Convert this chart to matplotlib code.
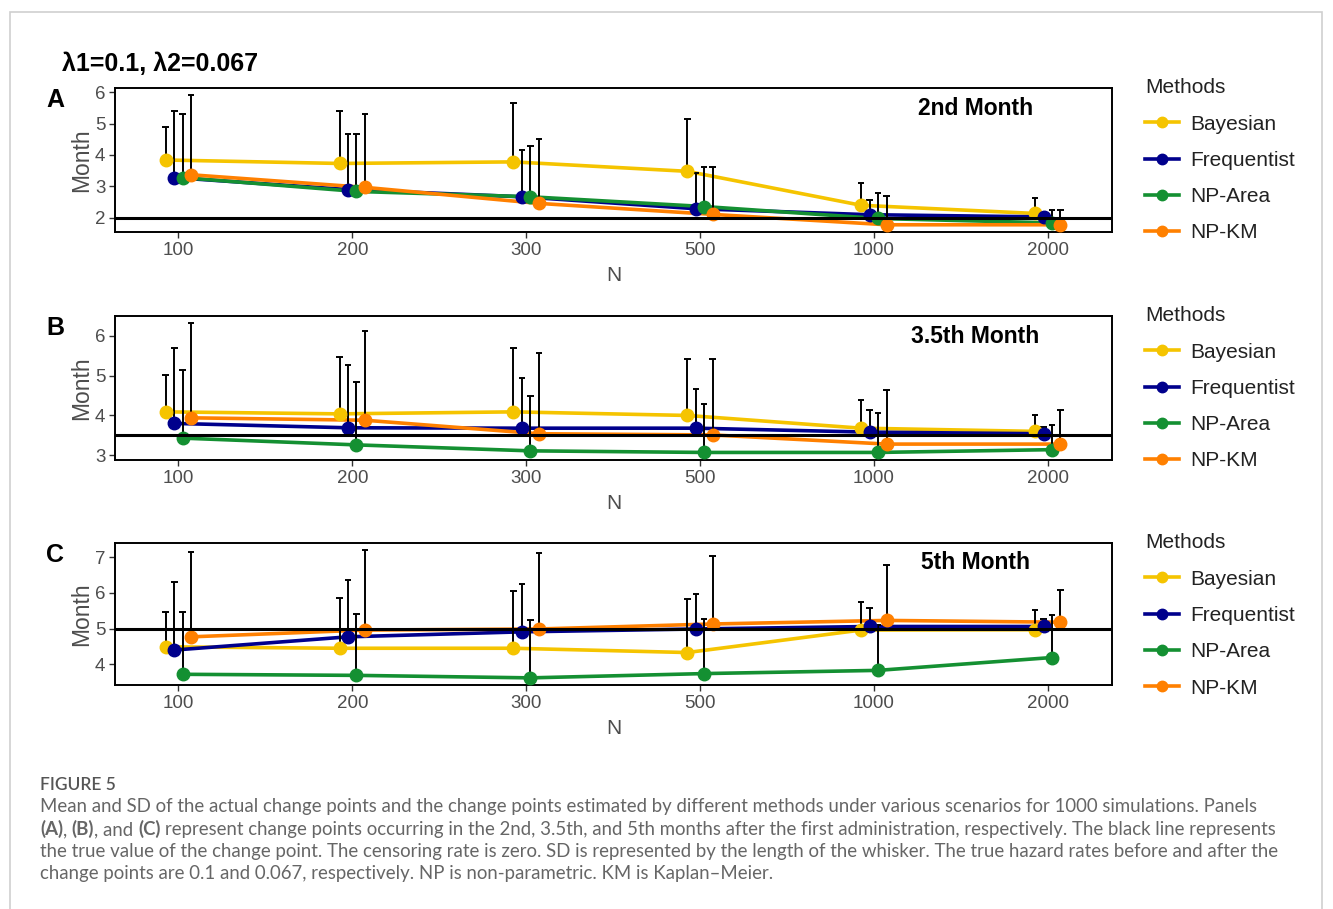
import numpy as np
import matplotlib
matplotlib.use('Agg')
import matplotlib.pyplot as plt
from matplotlib.lines import Line2D
from matplotlib.patches import Rectangle

# data: mean change point and mean + SD (whisker top)
n_labels = ['100', '200', '300', '500', '1000', '2000']
methods = ['Bayesian', 'Frequentist', 'NP-Area', 'NP-KM']
colors = ['#F5C400', '#00008C', '#149032', '#FF8000']

true_cp = [2.0, 3.5, 5.0]
panel_titles = ['2nd Month', '3.5th Month', '5th Month']
panel_letters = ['A', 'B', 'C']
ylims = [(1.55, 6.13), (2.88, 6.5), (3.42, 7.4)]
yticks = [[2, 3, 4, 5, 6], [3, 4, 5, 6], [4, 5, 6, 7]]

# panel A (2nd month)
mean_a = {
    'Bayesian':    [3.84, 3.73, 3.78, 3.48, 2.40, 2.14],
    'Frequentist': [3.28, 2.90, 2.67, 2.29, 2.10, 2.03],
    'NP-Area':     [3.28, 2.84, 2.67, 2.36, 1.98, 1.84],
    'NP-KM':       [3.37, 2.97, 2.46, 2.11, 1.78, 1.78],
}
upper_a = {
    'Bayesian':    [4.90, 5.41, 5.65, 5.14, 3.11, 2.62],
    'Frequentist': [5.41, 4.67, 4.16, 3.44, 2.57, 2.20],
    'NP-Area':     [5.29, 4.67, 4.27, 3.62, 2.80, 2.25],
    'NP-KM':       [5.91, 5.29, 4.52, 3.62, 2.68, 2.25],
}
# panel B (3.5th month)
mean_b = {
    'Bayesian':    [4.09, 4.04, 4.09, 4.00, 3.68, 3.60],
    'Frequentist': [3.80, 3.69, 3.68, 3.68, 3.58, 3.54],
    'NP-Area':     [3.43, 3.26, 3.11, 3.07, 3.07, 3.14],
    'NP-KM':       [3.94, 3.88, 3.54, 3.51, 3.28, 3.28],
}
upper_b = {
    'Bayesian':    [5.02, 5.46, 5.70, 5.42, 4.38, 4.00],
    'Frequentist': [5.70, 5.28, 4.95, 4.66, 4.14, 3.72],
    'NP-Area':     [5.14, 4.84, 4.49, 4.29, 4.05, 3.77],
    'NP-KM':       [6.33, 6.13, 5.57, 5.42, 4.63, 4.14],
}
# panel C (5th month)
mean_c = {
    'Bayesian':    [4.49, 4.45, 4.45, 4.33, 4.96, 4.97],
    'Frequentist': [4.40, 4.77, 4.91, 4.99, 5.06, 5.06],
    'NP-Area':     [3.72, 3.69, 3.62, 3.74, 3.83, 4.19],
    'NP-KM':       [4.77, 4.96, 4.99, 5.13, 5.23, 5.18],
}
upper_c = {
    'Bayesian':    [5.46, 5.86, 6.05, 5.82, 5.75, 5.51],
    'Frequentist': [6.31, 6.36, 6.24, 5.96, 5.58, 5.27],
    'NP-Area':     [5.46, 5.42, 5.25, 5.27, 5.10, 5.37],
    'NP-KM':       [7.16, 7.21, 7.11, 7.04, 6.78, 6.09],
}
means = [mean_a, mean_b, mean_c]
uppers = [upper_a, upper_b, upper_c]

# caption lines, each a list of (text, bold) runs
caption_lines = [
    [("Mean and SD of the actual change points and the change points estimated by different methods under various scenarios for 1000 simulations. Panels", False)],
    [("(A)", True), (",", False), ("(B)", True), (", and", False), ("(C)", True),
     ("represent change points occurring in the 2nd, 3.5th, and 5th months after the first administration, respectively. The black line represents", False)],
    [("the true value of the change point. The censoring rate is zero. SD is represented by the length of the whisker. The true hazard rates before and after the", False)],
    [("change points are 0.1 and 0.067, respectively. NP is non-parametric. KM is Kaplan\u2013Meier.", False)],
]

W, H = 1333, 909
fig = plt.figure(figsize=(W / 100, H / 100), dpi=100)
plt.rcParams['font.family'] = ['Liberation Sans', 'DejaVu Sans']

# light frame around the figure panel
fig.add_artist(Rectangle((10 / W, -0.01), (1322 - 10) / W, 1 - 12 / H + 0.01,
                         transform=fig.transFigure, fill=False, edgecolor='#cfcfcf', lw=1.2))

tick_gray = '#4d4d4d'
axes_tops = [88, 316, 543]
axes_h = [144, 144, 142]
left, right = 115, 1112
dodge = [-0.073, -0.024, 0.024, 0.073]
xpos = np.arange(1, len(n_labels) + 1)

for p in range(3):
    top = axes_tops[p]
    ax = fig.add_axes([left / W, 1 - (top + axes_h[p]) / H, (right - left) / W, axes_h[p] / H])
    for m, meth in enumerate(methods):
        x = xpos + dodge[m]
        y = np.array(means[p][meth])
        up = np.array(uppers[p][meth])
        ax.plot(x, y, color=colors[m], lw=2.6, zorder=2)
        ax.vlines(x, y, up, color='black', lw=1.4, zorder=3)
        ax.hlines(up, x - 0.019, x + 0.019, color='black', lw=1.4, zorder=3)
        ax.plot(x, y, 'o', color=colors[m], ms=9, zorder=4)
    ax.axhline(true_cp[p], color='black', lw=2.2, zorder=5)
    ax.set_xlim(0.635, 6.37)
    ax.set_ylim(*ylims[p])
    ax.set_xticks(xpos)
    ax.set_xticklabels(n_labels)
    ax.set_yticks(yticks[p])
    for s in ax.spines.values():
        s.set_linewidth(1.4)
    ax.tick_params(axis='both', labelsize=13.5, colors=tick_gray, length=4, width=1, pad=3)
    ax.tick_params(axis='both', color='#333333')
    ax.set_xlabel('N', fontsize=15, color=tick_gray, labelpad=5)
    ax.set_ylabel('Month', fontsize=16.5, color=tick_gray, labelpad=1)
    ax.text(0.863, 0.86, panel_titles[p], transform=ax.transAxes, ha='center', va='center',
            fontsize=16.5, fontweight='bold')
    fig.text(55 / W, 1 - (top + 12) / H, panel_letters[p], ha='center', va='center',
             fontsize=18, fontweight='bold')
    handles = [Line2D([0], [0], color=c, lw=2.6, marker='o', ms=7.5) for c in colors]
    leg = fig.legend(handles, methods, title='Methods', loc='upper left',
                     bbox_to_anchor=(1137 / W, 1 - (top - 18) / H), frameon=False,
                     fontsize=15, title_fontsize=15, labelspacing=0.83,
                     handlelength=1.6, handletextpad=0.55, borderaxespad=0)
    leg._legend_box.align = 'left'
    for t in leg.get_texts():
        t.set_color('#222222')
    leg.get_title().set_color('#222222')

fig.text(62 / W, 1 - 64 / H, '\u03bb1=0.1, \u03bb2=0.067', ha='left', va='center',
         fontsize=18, fontweight='bold')

# caption
cap = fig.add_axes([0, 0, 1, 1])
cap.axis('off')
cap.set_xlim(0, W)
cap.set_ylim(H, 0)
cap_font = ['Lato', 'DejaVu Sans']
cap.text(40, 785, 'FIGURE 5', ha='left', va='center', fontsize=12.5, color='#555555',
         family=cap_font, fontweight='semibold')
line_y = [807, 830, 852, 874]
for y, runs in zip(line_y, caption_lines):
    prev = None
    for txt, bold in runs:
        wt = 'bold' if bold else 'normal'
        if prev is None:
            prev = cap.text(40, y + 5, txt, ha='left', va='baseline', fontsize=13.4,
                            color='#666666', family=cap_font, fontweight=wt)
        else:
            gap = 0 if txt.startswith(',') else 4.5
            prev = cap.annotate(txt, xy=(1, y + 5), xycoords=(prev, 'data'), xytext=(gap, 0),
                                textcoords='offset pixels', ha='left', va='baseline',
                                fontsize=13.4, color='#666666', family=cap_font,
                                fontweight=wt)

fig.savefig('out.png', dpi=100)
